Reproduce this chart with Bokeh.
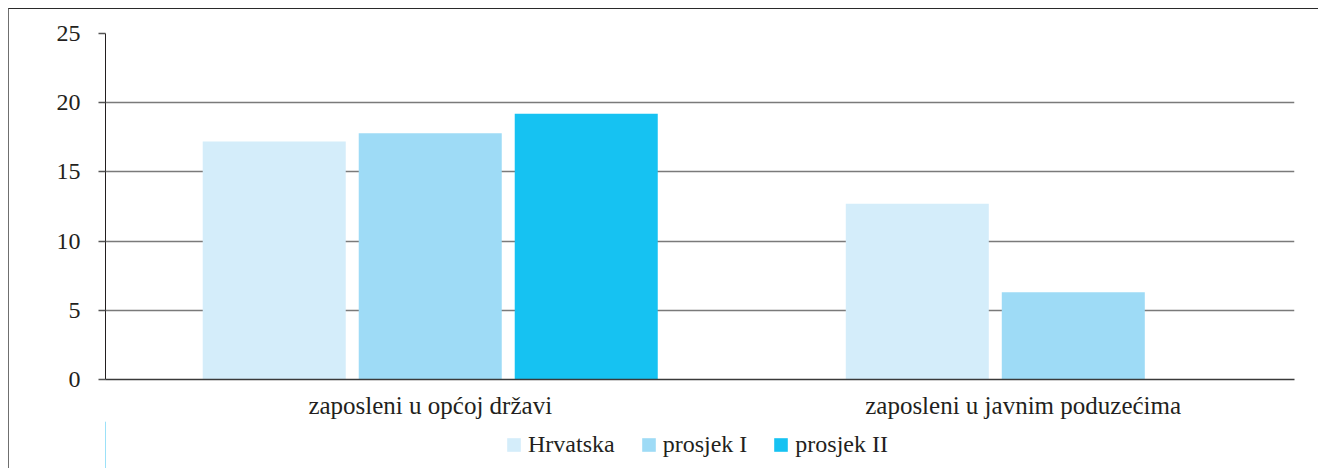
from bokeh.plotting import figure
from bokeh.layouts import column
from bokeh.models import Range1d, FixedTicker, Legend, LegendItem
from bokeh.embed import file_html
from bokeh.resources import INLINE

categories = ["zaposleni u općoj državi", "zaposleni u javnim poduzećima"]
series = ["Hrvatska", "prosjek I", "prosjek II"]
hrvatska = [17.2, 12.7]
prosjek_1 = [17.8, 6.3]
prosjek_2 = [19.2, 0.0]
colors = ["#d4edfa", "#9edbf6", "#16c2f2"]
y_ticks = [0, 5, 10, 15, 20, 25]

TXT = "#231f20"
FONT = "'Liberation Serif', 'Times New Roman', serif"
W = 1309

x_start, x_end = -0.005, 1.844
p = figure(width=W, height=412, output_backend="svg", toolbar_location=None,
           x_range=Range1d(x_start, x_end), y_range=Range1d(0, 25),
           min_border_left=96, min_border_right=24, min_border_top=24, min_border_bottom=20)
p.outline_line_color = None

centers = [i + 0.5 for i in range(len(categories))]
offsets = [-0.2426, 0.0, 0.2426]
values = [hrvatska, prosjek_1, prosjek_2]
for vals, off, col in zip(values, offsets, colors):
    p.vbar(x=[c + off for c in centers], top=vals, width=0.2224, bottom=0,
           fill_color=col, line_color=None)

# y axis
p.yaxis.ticker = FixedTicker(ticks=y_ticks)
p.yaxis.major_label_text_font = FONT
p.yaxis.major_label_text_font_size = "24px"
p.yaxis.major_label_text_color = TXT
p.yaxis.major_label_standoff = 18
p.yaxis.axis_line_color = TXT
p.yaxis.axis_line_width = 1
p.yaxis.major_tick_out = 7
p.yaxis.major_tick_in = 0
p.yaxis.major_tick_line_color = "#555555"
p.yaxis.major_tick_line_width = 1.5
p.yaxis.minor_tick_line_color = None

# x axis: label each category at the centre of its visible part
label_pos = [(max(i, x_start) + min(i + 1, x_end)) / 2 for i in range(len(categories))]
p.xaxis.ticker = FixedTicker(ticks=label_pos)
p.xaxis.major_label_overrides = {pos: cat for pos, cat in zip(label_pos, categories)}
p.xaxis.major_label_text_font = FONT
p.xaxis.major_label_text_font_size = "25px"
p.xaxis.major_label_text_color = TXT
p.xaxis.major_label_standoff = 6
p.xaxis.major_tick_line_color = None
p.xaxis.minor_tick_line_color = None
p.xaxis.axis_line_color = "#3a3a3a"
p.xaxis.axis_line_width = 1.5

p.xgrid.grid_line_color = None
p.ygrid.ticker = FixedTicker(ticks=y_ticks)
p.ygrid.grid_line_color = "#7a7a7a"
p.ygrid.grid_line_width = 1.5

# legend strip below the chart (its bars lie outside this strip's ranges)
q = figure(width=W, height=47, output_backend="svg", toolbar_location=None,
           x_range=Range1d(10, 11), y_range=Range1d(0, 1),
           x_axis_type=None, y_axis_type=None,
           min_border_left=96, min_border_right=24, min_border_top=0, min_border_bottom=0)
q.outline_line_color = None
q.background_fill_color = None
q.border_fill_color = None
q.xgrid.grid_line_color = None
q.ygrid.grid_line_color = None
items = []
for name, vals, off, col in zip(series, values, offsets, colors):
    r = q.vbar(x=[c + off for c in centers], top=vals, width=0.2224, bottom=0,
               fill_color=col, line_color=None)
    items.append(LegendItem(label=name, renderers=[r]))
legend = Legend(items=items, orientation="horizontal", location=(400, 10),
                glyph_width=17, glyph_height=17, label_standoff=6, spacing=25,
                padding=0, margin=0, border_line_color=None, background_fill_alpha=0,
                label_text_font=FONT, label_text_font_size="24px", label_text_color=TXT)
q.add_layout(legend, "center")

layout = column(p, q, spacing=0)
layout.styles = {"margin-left": "8px", "margin-top": "8px",
                 "border-left": "1px solid #6f6f6f", "border-top": "1px solid #2a2a2a"}

open("out.html", "w").write(file_html(layout, INLINE))
